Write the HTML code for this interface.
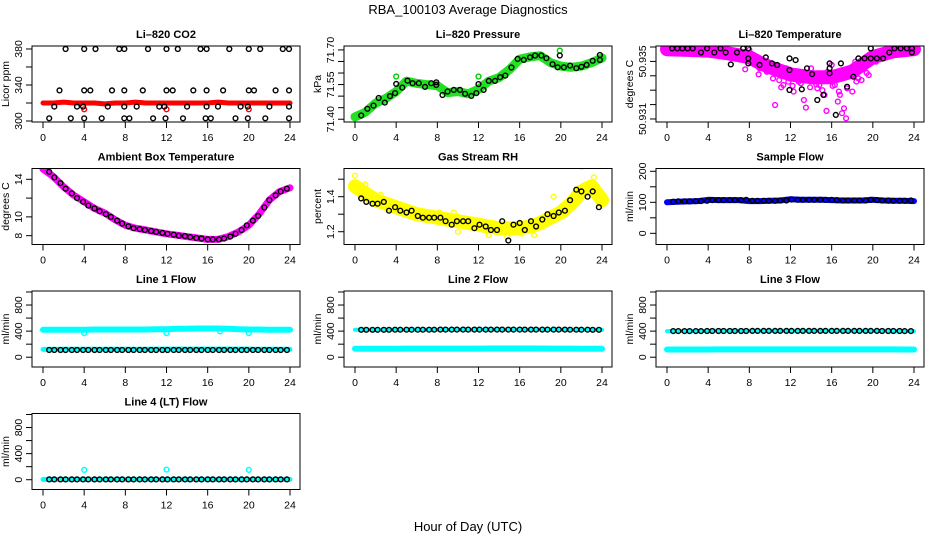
<!DOCTYPE html>
<html><head><meta charset="utf-8"><style>
html,body{margin:0;padding:0;background:#fff;}
svg{display:block;font-family:"Liberation Sans",Arial,sans-serif;}
</style></head><body>
<svg id="chart" width="936" height="540" viewBox="0 0 936 540" xmlns="http://www.w3.org/2000/svg">
<text x="468" y="14" text-anchor="middle" font-size="13">RBA_100103  Average Diagnostics</text>
<text x="468" y="531" text-anchor="middle" font-size="13">Hour of Day (UTC)</text>
</svg>
<script>
// ---------- data ----------
const hourGrid = [0,1,2,3,4,5,6,7,8,9,10,11,12,13,14,15,16,17,18,19,20,21,22,23,24];
const sampleHours = [0.6,1.1,1.7,2.2,2.8,3.3,3.9,4.4,5,5.5,6.1,6.6,7.2,7.7,8.3,8.8,9.4,9.9,10.5,11,11.6,12.1,12.7,13.2,13.8,14.3,14.9,15.4,16,16.5,17.1,17.6,18.2,18.7,19.3,19.8,20.4,20.9,21.5,22,22.6,23.1,23.7];
const xTicks = [0,4,8,12,16,20,24];

// Li-820 CO2
const co2Red = [320,320,321,320,320,320,319,320,320,321,320,320,320,320,320,320,320,321,320,320,320,320,320,320,320];
const co2RedOutT = [4,12,20];
const co2RedOutV = [313,313,313];
const co2BlackT = [2.2,4,5.1,7.4,7.9,10.2,12,13.1,15.3,15.9,18.1,20,21.1,23.3,23.9,
  1.6,4,4.6,6.7,7.9,9.7,12,12.6,14.6,15.9,17.5,20,20.5,22.6,23.9,
  1.1,3.3,3.9,6.3,7.9,9.1,11.3,11.8,14,15.9,17,19.2,19.9,22,23.9,
  0.6,2.7,4,5.7,7.9,8.4,10.7,11.9,13.6,15.8,16.3,18.7,19.9,21.6,23.9];
const co2BlackV = [380,380,380,380,380,380,380,380,380,380,380,380,380,380,380,
  334,334,334,334,334,334,334,334,334,334,334,334,334,334,334,
  316,316,316,316,316,316,316,316,316,316,316,316,316,316,316,
  303,303,303,303,303,303,303,303,303,303,303,303,303,303,303];

// Li-820 Pressure
const presGreen = [71.41,71.43,71.47,71.49,71.52,71.565,71.555,71.55,71.545,71.515,71.52,71.51,71.53,71.565,71.58,71.615,71.66,71.67,71.675,71.645,71.63,71.625,71.63,71.645,71.665];
const presGreenOutT = [4,12,19.9];
const presGreenOutV = [71.585,71.585,71.697];
const presBlackT = [0.6,1.2,1.8,2.3,2.9,3.4,3.9,4,4.6,5.1,5.6,6.2,6.8,7.4,7.9,7.9,8.5,9,9.6,10.2,10.7,11.3,11.8,12,12.5,13,13.6,14.1,14.6,15.2,15.8,16.4,17,17.5,18.1,18.6,19.2,19.7,19.9,20.3,20.9,21.5,22,22.5,23.1,23.8,23.8];
const presBlackV = [71.416,71.445,71.459,71.492,71.472,71.500,71.513,71.553,71.537,71.567,71.556,71.556,71.540,71.556,71.560,71.548,71.505,71.520,71.527,71.527,71.510,71.501,71.513,71.552,71.527,71.566,71.566,71.582,71.589,71.624,71.661,71.657,71.668,71.676,71.676,71.664,71.638,71.625,71.676,71.625,71.632,71.621,71.627,71.635,71.653,71.678,71.657];

// Li-820 Temperature (millidegrees above 50.930)
const tempMagBandT = [0,2,4,6,8,9,10,12,14,16,18,19,20,22,24];
const tempMagBandV = [5.85,5.8,5.75,5.55,5.3,4.9,4.6,4.1,3.9,3.9,4.3,4.8,5.3,5.7,5.85];
const tempMagT = [0,0.5,1,1.5,2,2.5,3,3.5,4,4.5,5,5.5,6,6.5,7,7.5,8,8.3,8.7,9,9.3,9.7,10,10.3,10.6,11,11.3,11.6,12,12.3,12.6,13,13.3,13.6,14,14.3,14.6,15,15.3,15.6,16,16.3,16.6,17,17.2,17.5,17.8,18,18.3,18.6,19,19.3,19.6,20,20.3,20.6,21,21.5,22,22.5,23,23.5,24,13.5,15.5,17.4,17,10.5,1.2,2.8,4.8,6.2,7.2,19.8,21.2,22.8,23.2,12.8,14.8,16.8,11.8,9.8,7.6,8.9,10.9,12.2,13.9,15.1,16.1,18.9,19.4,11.1,14.5,16.7,18.4];
const tempMagV = [5.90,5.85,5.90,5.79,5.90,5.67,5.85,5.55,5.90,5.67,5.79,5.44,5.67,5.32,5.55,5.21,5.79,4.98,5.32,4.52,4.98,4.28,4.75,3.82,4.40,4.05,3.36,4.52,3.82,2.90,4.28,3.48,2.32,4.05,4.52,3.59,3.13,3.82,2.67,4.28,4.75,3.36,2.21,3.82,1.74,3.13,4.28,2.90,4.98,3.82,4.52,5.21,4.05,5.44,4.98,5.67,5.32,5.79,5.55,5.85,5.67,5.90,5.79,1.79,1.56,1.05,1.40,1.97,5.79,5.90,5.67,5.55,5.44,5.21,5.67,5.79,5.90,3.59,3.36,2.67,3.59,4.40,4.45,4.10,3.70,3.30,3.20,3.00,3.30,3.70,4.20,3.20,3.40,2.90,3.60];
const tempBlackT = [0.5,1,1.5,2,2.5,3.3,3.9,4.6,5.2,5.7,6.2,6.8,7.4,7.9,7.9,7.9,9,9.6,10.2,10.7,11.9,11.9,11.9,12.5,13.1,13.6,14.1,14.6,15.2,15.8,15.8,15.8,16.4,16.9,17.5,18.1,18.6,19.2,19.8,19.8,20.4,21,21.6,22.1,22.7,23.3,23.8,23.8];
const tempBlackV = [5.90,5.90,5.90,5.90,5.90,5.62,5.90,5.62,5.90,5.62,4.79,5.62,5.90,5.90,5.21,4.86,4.75,5.28,4.86,4.75,5.21,4.40,3.01,5.09,3.06,4.52,4.12,2.32,2.67,4.86,4.52,4.17,1.28,4.86,3.24,3.94,5.21,5.21,5.90,5.21,5.21,5.21,5.62,5.90,5.90,5.90,5.90,5.62];

// Ambient Box Temperature
const ambMag = [15.1,14.3,13.2,12.3,11.6,10.9,10.4,9.7,9.1,8.8,8.6,8.4,8.2,8.05,7.9,7.75,7.6,7.6,7.9,8.4,9.1,10.3,11.8,12.7,13.1];
const ambBlack = [14.8,14.2,13.6,13.0,12.5,12.0,11.6,11.2,10.9,10.6,10.3,10.0,9.6,9.3,9.0,8.8,8.7,8.6,8.5,8.4,8.3,8.2,8.1,8.0,7.95,7.85,7.75,7.7,7.6,7.6,7.6,7.7,7.9,8.2,8.6,9.1,9.6,10.1,11.0,11.8,12.3,12.7,13.0];

// Gas Stream RH
const rhYellow = [1.46,1.42,1.38,1.36,1.34,1.32,1.30,1.29,1.28,1.27,1.26,1.25,1.24,1.23,1.22,1.22,1.22,1.23,1.25,1.28,1.31,1.36,1.43,1.46,1.38];
const rhYellowOutT = [0,22,14.8,8.2,9.6,17.4,19.3,23.2,2.5,10,13,16.2,20.5,1];
const rhYellowOutV = [1.52,1.57,1.17,1.31,1.31,1.18,1.40,1.51,1.41,1.20,1.18,1.19,1.34,1.47];
const rhBlack = [1.39,1.37,1.36,1.36,1.37,1.32,1.34,1.32,1.31,1.32,1.29,1.28,1.28,1.28,1.28,1.26,1.24,1.26,1.26,1.26,1.22,1.24,1.23,1.21,1.21,1.26,1.15,1.24,1.25,1.21,1.26,1.23,1.27,1.30,1.29,1.31,1.32,1.38,1.44,1.43,1.40,1.43,1.34];

// Sample Flow
const sampleBlue = [100,102,103,104,108,107,107,107,104,104,105,106,110,108,108,108,107,106,106,106,108,106,105,105,104];
const sampleBlack = [102,103,103,103,104,104,105,107,107,107,107,107,107,108,105,105,105,105,105,106,106,109,108,108,108,108,108,108,108,107,106,106,106,106,106,108,107,106,106,105,105,105,106];

// Line 1 Flow
const l1CyanHigh = [420,420,420,420,420,425,425,425,425,425,425,430,430,435,435,440,440,440,435,430,425,425,420,420,420];
const l1CyanLow = [120,122,122,122,122,122,122,122,122,122,122,124,124,124,124,124,124,124,124,124,124,122,122,122,120];
const l1CyanOutT = [4,12,17.2,20];
const l1CyanOutV = [370,370,395,370];
const l1Black = [110,110,110,110,110,110,110,110,110,110,110,110,110,110,110,110,110,110,110,110,110,110,110,110,110,110,110,110,110,110,110,110,110,110,110,110,110,110,110,110,110,110,110];

// Line 2 Flow
const l2CyanHigh = [420,422,422,422,422,422,422,422,422,422,422,422,424,424,424,424,424,424,424,424,424,424,422,422,420];
const l2CyanLow = [130,130,130,130,130,132,132,132,132,132,132,132,132,134,134,134,134,134,134,132,132,132,130,130,130];
const l2Black = [420,420,420,420,420,420,422,422,422,422,422,422,422,422,424,424,424,424,424,424,424,424,424,424,424,424,424,424,424,424,424,424,424,424,424,424,424,422,422,422,422,420,420];

// Line 3 Flow
const l3CyanHigh = [400,402,402,402,402,405,405,405,405,405,405,405,405,405,405,408,408,408,405,405,405,405,402,402,400];
const l3CyanLow = [118,118,118,118,118,120,120,120,120,120,120,120,120,120,120,120,120,120,120,120,120,120,120,118,118];
const l3Black = [400,400,400,400,400,400,402,402,402,402,402,402,402,402,404,404,404,404,404,404,404,404,404,404,404,404,404,404,404,404,404,404,404,404,404,404,404,402,402,402,402,400,400];

// Line 4 (LT) Flow
const l4Cyan = [5,5,5,5,5,5,5,5,5,5,5,5,5,5,5,5,5,5,5,5,5,5,5,5,5];
const l4CyanOutT = [4,12,20];
const l4CyanOutV = [150,155,150];
const l4Black = [5,5,5,5,5,5,5,5,5,5,5,5,5,5,5,5,5,5,5,5,5,5,5,5,5,5,5,5,5,5,5,5,5,5,5,5,5,5,5,5,5,5,5];

// ---------- drawing ----------
const NS = 'http://www.w3.org/2000/svg';
const svg = document.getElementById('chart');
function mk(tag, attrs, parent){
  const e = document.createElementNS(NS, tag);
  for (const k in attrs) e.setAttribute(k, attrs[k]);
  (parent||svg).appendChild(e);
  return e;
}
const flowTicks = [0,200,400,600,800,1000];
const flowLabels = ['0','','400','','800',''];
const panels = [
 {c:0,r:0,name:'co2',title:'Li\u2013820 CO2',ylab:'Licor ppm',ylim:[298.9,383.3],ticks:[300,320,340,360,380],labels:['300','','340','','380'],
  series:[{k:'band',t:hourGrid,v:co2Red,col:'#ff0000',w:5},{k:'pts',t:co2RedOutT,v:co2RedOutV,col:'#ff0000'},{k:'pts',t:co2BlackT,v:co2BlackV,col:'#000'}]},
 {c:1,r:0,name:'pressure',title:'Li\u2013820 Pressure',ylab:'kPa',ylim:[71.388,71.717],ticks:[71.40,71.45,71.50,71.55,71.60,71.65,71.70],labels:['71.40','','','71.55','','','71.70'],
  series:[{k:'band',t:hourGrid,v:presGreen,col:'#22e022',w:9},{k:'pts',t:presGreenOutT,v:presGreenOutV,col:'#00cc00'},{k:'pts',t:presBlackT,v:presBlackV,col:'#000'}]},
 {c:2,r:0,name:'temperature',title:'Li\u2013820 Temperature',ylab:'degrees C',ylim:[0.79,6.07],ticks:[1,2,3,4,5,6],labels:['50.931','','','','50.935',''],
  series:[{k:'band',t:tempMagBandT,v:tempMagBandV,col:'#ff00ff',w:14},{k:'pts',t:tempMagT,v:tempMagV,col:'#ff00ff'},{k:'pts',t:tempBlackT,v:tempBlackV,col:'#000'}]},
 {c:0,r:1,name:'ambient',title:'Ambient Box Temperature',ylab:'degrees C',ylim:[7.06,15.15],ticks:[8,10,12,14],labels:['8','10','','14'],
  series:[{k:'band',t:hourGrid,v:ambMag,col:'#ff00ff',w:7},{k:'pts',t:sampleHours,v:ambBlack,col:'#000'}]},
 {c:1,r:1,name:'rh',title:'Gas Stream RH',ylab:'percent',ylim:[1.127,1.561],ticks:[1.2,1.3,1.4,1.5],labels:['1.2','','1.4',''],
  series:[{k:'band',t:hourGrid,v:rhYellow,col:'#ffff00',w:14},{k:'pts',t:rhYellowOutT,v:rhYellowOutV,col:'#ffff00'},{k:'pts',t:sampleHours,v:rhBlack,col:'#000'}]},
 {c:2,r:1,name:'sample-flow',title:'Sample Flow',ylab:'ml/min',ylim:[-36,209],ticks:[0,50,100,150,200],labels:['0','','100','','200'],
  series:[{k:'band',t:hourGrid,v:sampleBlue,col:'#0000ff',w:6},{k:'pts',t:sampleHours,v:sampleBlack,col:'#000'}]},
 {c:0,r:2,name:'line1',title:'Line 1 Flow',ylab:'ml/min',ylim:[-150,1015],ticks:flowTicks,labels:flowLabels,
  series:[{k:'band',t:hourGrid,v:l1CyanHigh,col:'#00ffff',w:6},{k:'band',t:hourGrid,v:l1CyanLow,col:'#00ffff',w:5},{k:'pts',t:l1CyanOutT,v:l1CyanOutV,col:'#00ffff'},{k:'pts',t:sampleHours,v:l1Black,col:'#000'}]},
 {c:1,r:2,name:'line2',title:'Line 2 Flow',ylab:'ml/min',ylim:[-150,1015],ticks:flowTicks,labels:flowLabels,
  series:[{k:'band',t:hourGrid,v:l2CyanLow,col:'#00ffff',w:6},{k:'band',t:hourGrid,v:l2CyanHigh,col:'#00ffff',w:4},{k:'pts',t:sampleHours,v:l2Black,col:'#000'}]},
 {c:2,r:2,name:'line3',title:'Line 3 Flow',ylab:'ml/min',ylim:[-150,1015],ticks:flowTicks,labels:flowLabels,
  series:[{k:'band',t:hourGrid,v:l3CyanLow,col:'#00ffff',w:6},{k:'band',t:hourGrid,v:l3CyanHigh,col:'#00ffff',w:4},{k:'pts',t:sampleHours,v:l3Black,col:'#000'}]},
 {c:0,r:3,name:'line4',title:'Line 4 (LT) Flow',ylab:'ml/min',ylim:[-150,1015],ticks:flowTicks,labels:flowLabels,
  series:[{k:'band',t:hourGrid,v:l4Cyan,col:'#00ffff',w:5},{k:'pts',t:l4CyanOutT,v:l4CyanOutV,col:'#00ffff'},{k:'pts',t:sampleHours,v:l4Black,col:'#000'}]}
];

panels.forEach(p=>{
  const L=32+312*p.c, R=300+312*p.c, T=46+122.5*p.r, B=122+122.5*p.r;
  const x0=43+312*p.c, x1=290+312*p.c;
  const xs = t => x0 + (x1-x0)*t/24;
  const ys = v => B - (B-T)*(v-p.ylim[0])/(p.ylim[1]-p.ylim[0]);
  const g = mk('g',{});
  
  
  const clip = mk('clipPath',{id:'clip-'+p.name}, g);
  mk('rect',{x:L,y:T,width:R-L,height:B-T},clip);
  const plot = mk('g',{'clip-path':'url(#clip-'+p.name+')'}, g);
  
  
  p.series.forEach(s=>{
    if (s.k==='band'){
      const pl = mk('polyline',{points:s.t.map((t,i)=>xs(t).toFixed(1)+','+ys(s.v[i]).toFixed(1)).join(' '),fill:'none',stroke:s.col,'stroke-width':s.w,'stroke-linejoin':'round','stroke-linecap':'round'},plot);
      
      
    } else {
      s.t.forEach((t,i)=>{
        const c = mk('circle',{cx:xs(t).toFixed(1),cy:ys(s.v[i]).toFixed(1),r:2.4,fill:'none',stroke:s.col,'stroke-width':1.4},plot);
        
        
      });
    }
  });
  const box = mk('rect',{x:L,y:T,width:R-L,height:B-T,fill:'none',stroke:'#000','stroke-width':1},g);
  
  
  const ttl = mk('text',{x:(L+R)/2,y:T-8,'text-anchor':'middle','font-size':11,'font-weight':'bold'},g);
  ttl.textContent = p.title;
  
  
  xTicks.forEach(t=>{
    const x=xs(t);
    const tk = mk('line',{x1:x,y1:B,x2:x,y2:B+6,stroke:'#000'},g);
    
    
    const lb = mk('text',{x:x,y:B+19,'text-anchor':'middle','font-size':10.5},g);
    lb.textContent = t;
    
    
  });
  p.ticks.forEach((v,i)=>{
    const y=ys(v);
    const tk = mk('line',{x1:L-6,y1:y,x2:L,y2:y,stroke:'#000'},g);
    
    
    if (p.labels[i]){
      const lb = mk('text',{x:0,y:0,'text-anchor':'middle','font-size':10.5,transform:'translate('+(L-10)+','+y+') rotate(-90)'},g);
      lb.textContent = p.labels[i];
      
      
    }
  });
  const yl = mk('text',{x:0,y:0,'text-anchor':'middle','font-size':10.5,transform:'translate('+(L-23)+','+((T+B)/2)+') rotate(-90)'},g);
  yl.textContent = p.ylab;
  
  
});
</script>
</body></html>
